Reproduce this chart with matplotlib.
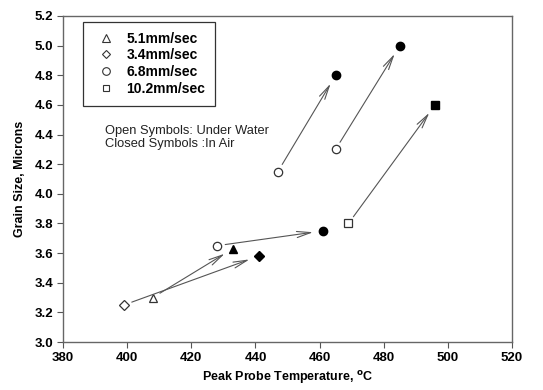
import matplotlib
matplotlib.use("Agg")
import matplotlib.pyplot as plt
from matplotlib.lines import Line2D

plt.rcParams['font.family'] = ['Liberation Sans', 'DejaVu Sans']

# Data: (open/under water) -> (closed/in air)
series_labels = ["5.1mm/sec", "3.4mm/sec", "6.8mm/sec", "10.2mm/sec"]
series_markers = ["^", "D", "o", "s"]

water_x = [408, 399, 428, 447, 465, 469]
water_y = [3.30, 3.25, 3.65, 4.15, 4.30, 3.80]
air_x = [433, 441, 461, 465, 485, 496]
air_y = [3.63, 3.58, 3.75, 4.80, 5.00, 4.60]
point_marker = ["^", "D", "o", "o", "o", "s"]

x_ticks = [380, 400, 420, 440, 460, 480, 500, 520]
y_ticks = [3.0, 3.2, 3.4, 3.6, 3.8, 4.0, 4.2, 4.4, 4.6, 4.8, 5.0, 5.2]

fig = plt.figure(figsize=(5.43, 3.90), dpi=100)
ax = fig.add_axes([0.116, 0.123, 0.827, 0.836])

msize = {"^": 6, "D": 5, "o": 6, "s": 5.5}
for wx, wy, m in zip(water_x, water_y, point_marker):
    ax.plot(wx, wy, marker=m, markersize=msize[m], markerfacecolor='white',
            markeredgecolor='#333333', markeredgewidth=0.9, linestyle='none', zorder=3)
for axx, ay, m in zip(air_x, air_y, point_marker):
    ax.plot(axx, ay, marker=m, markersize=msize[m], markerfacecolor='black',
            markeredgecolor='black', linestyle='none', zorder=3)

for wx, wy, axx, ay in zip(water_x, water_y, air_x, air_y):
    ax.annotate("", xy=(axx, ay), xytext=(wx, wy),
                arrowprops=dict(arrowstyle="->,head_length=1.0,head_width=0.22",
                                color='#555555', lw=0.8, shrinkA=6, shrinkB=7))

ax.set_xlim(380, 520)
ax.set_ylim(3.0, 5.2)
ax.set_xticks(x_ticks)
ax.set_yticks(y_ticks)
ax.set_xticklabels([str(v) for v in x_ticks], fontweight='bold', fontsize=9.5)
ax.set_yticklabels([f"{v:.1f}" for v in y_ticks], fontweight='bold', fontsize=9.5)
ax.tick_params(direction='out', length=4, width=0.8, color='#555555', pad=3)
for s in ax.spines.values():
    s.set_color('#666666')
    s.set_linewidth(1.0)

ax.set_xlabel("Peak Probe Temperature, $^{\\mathbf{o}}$C", fontweight='bold', fontsize=9, labelpad=4)
ax.set_ylabel("Grain Size, Microns", fontweight='bold', fontsize=9, labelpad=6)

handles = [Line2D([], [], marker=m, linestyle='none', markerfacecolor='white',
                  markeredgecolor='#333333', markeredgewidth=0.8, markersize=msize[m] - 0.5)
           for m in series_markers]
leg = ax.legend(handles, series_labels, loc='upper left', bbox_to_anchor=(0.045, 0.982),
                borderaxespad=0, fancybox=False, edgecolor='#333333', framealpha=1,
                prop={'weight': 'bold', 'size': 10}, labelspacing=0.2,
                handletextpad=0.5, borderpad=0.7, handlelength=1.9)
leg.get_frame().set_linewidth(0.9)

ax.text(0.093, 0.665, "Open Symbols: Under Water\nClosed Symbols :In Air",
        transform=ax.transAxes, fontsize=9.3, va='top', ha='left', color='#222222',
        linespacing=1.05)

fig.savefig("out.png", dpi=100)
